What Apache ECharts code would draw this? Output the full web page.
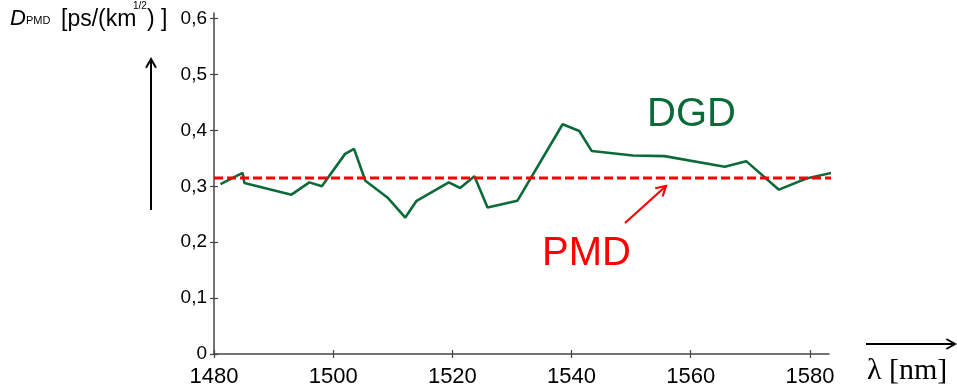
<!DOCTYPE html>
<html>
<head>
<meta charset="utf-8">
<script src="https://cdn.jsdelivr.net/npm/echarts@6/dist/echarts.min.js"></script>
<style>
  html, body { margin: 0; padding: 0; background: #fff; }
  #chart { width: 957px; height: 392px; }
</style>
</head>
<body>
<div id="chart"></div>
<script>
// Wavelength samples (nm) and measured differential group delay
const wavelength = [1481.1, 1484.8, 1485.1, 1493.0, 1496.0, 1498.1, 1502.0, 1503.5, 1505.4,
  1509.1, 1512.1, 1514.0, 1519.4, 1521.3, 1523.7, 1525.9, 1530.9, 1538.5, 1541.3, 1543.4,
  1550.3, 1555.6, 1565.7, 1569.3, 1574.8, 1579.4, 1585.3];
const dgd = [0.304, 0.324, 0.306, 0.285, 0.307, 0.300, 0.358, 0.367, 0.310,
  0.280, 0.244, 0.274, 0.307, 0.297, 0.318, 0.262, 0.274, 0.411, 0.399, 0.363,
  0.355, 0.354, 0.335, 0.345, 0.294, 0.314, 0.328];

// Mean PMD level across the band
const pmdSpan = [1480, 1586.5];
const pmdValue = 0.315;

// Axis ticks and labels
const xTickValues = [1480, 1500, 1520, 1540, 1560, 1580];
const yTickValues = [0, 0.1, 0.2, 0.3, 0.4, 0.5, 0.6];
const yTickLabels = ['0', '0,1', '0,2', '0,3', '0,4', '0,5', '0,6'];

const X_MIN = 1480, X_MAX = 1583.2, Y_MIN = 0, Y_MAX = 0.61;
const GREEN = '#0b6b38';
const RED = '#ff0000';
const AXIS = '#444';
const SANS = '"Liberation Sans", Arial, sans-serif';

const chart = echarts.init(document.getElementById('chart'), null, { renderer: 'canvas' });

function arrow(x1, y1, x2, y2, color, width, head) {
  const dx = x2 - x1, dy = y2 - y1;
  const len = Math.hypot(dx, dy);
  const ux = dx / len, uy = dy / len;
  const a = Math.PI / 6;
  const p1 = [x2 - head * (ux * Math.cos(a) - uy * Math.sin(a)), y2 - head * (uy * Math.cos(a) + ux * Math.sin(a))];
  const p2 = [x2 - head * (ux * Math.cos(a) + uy * Math.sin(a)), y2 - head * (uy * Math.cos(a) - ux * Math.sin(a))];
  return [
    { type: 'line', shape: { x1, y1, x2, y2 }, style: { stroke: color, lineWidth: width }, z: 100 },
    { type: 'polyline', shape: { points: [p1, [x2, y2], p2] }, style: { stroke: color, lineWidth: width, fill: null }, z: 100 }
  ];
}

// Text placed by the top of its line box
function txt(text, x, y, font, fill) {
  return {
    type: 'text', x, y, z: 100,
    style: { text, font, fill, verticalAlign: 'top', align: 'left' }
  };
}

const graphics = [
  // y-axis quantity label
  txt('D', 10, 8, 'italic 22px ' + SANS, '#000'),
  txt('PMD', 26, 15, '11px ' + SANS, '#000'),
  txt('[ps/(km', 61, 8, '23px ' + SANS, '#000'),
  txt('1/2', 133, 1, '10px ' + SANS, '#000'),
  txt(') ]', 147, 8, '23px ' + SANS, '#000'),
  // curve names
  txt('DGD', 647, 95, '40px ' + SANS, GREEN),
  txt('PMD', 542, 234, '40px ' + SANS, RED),
  // x quantity label
  txt('\u03bb [nm]', 867, 356, '30px "Liberation Serif", "Times New Roman", serif', '#000')
].concat(
  arrow(151, 210, 151, 59, '#000', 2, 10),
  arrow(866, 344, 955, 344, '#000', 2, 10),
  arrow(625, 223, 666, 186, RED, 2.2, 11)
);

const tickLen = 4;
const option = {
  animation: false,
  backgroundColor: '#fff',
  grid: { left: 214, right: 128, top: 13, bottom: 38, containLabel: false },
  xAxis: [{
    type: 'value', min: X_MIN, max: X_MAX,
    axisLine: { show: true, lineStyle: { color: AXIS, width: 1.5 } },
    axisTick: { show: true, length: tickLen, customValues: xTickValues, lineStyle: { color: AXIS, width: 1.2 } },
    axisLabel: { customValues: xTickValues, margin: 12, color: '#000', fontSize: 22, fontFamily: SANS,
      formatter: v => String(v) },
    splitLine: { show: false }
  }, {
    type: 'value', min: X_MIN, max: X_MAX, position: 'bottom',
    axisLine: { show: false },
    axisTick: { show: true, inside: true, length: tickLen, customValues: xTickValues, lineStyle: { color: AXIS, width: 1.2 } },
    axisLabel: { show: false },
    splitLine: { show: false }
  }],
  yAxis: [{
    type: 'value', min: Y_MIN, max: Y_MAX,
    axisLine: { show: true, lineStyle: { color: AXIS, width: 1.5 } },
    axisTick: { show: true, length: tickLen, customValues: yTickValues, lineStyle: { color: AXIS, width: 1.2 } },
    axisLabel: { customValues: yTickValues, margin: 7, color: '#000', fontSize: 19, fontFamily: SANS,
      formatter: v => yTickLabels[Math.round(v * 10)] },
    splitLine: { show: false }
  }, {
    type: 'value', min: Y_MIN, max: Y_MAX, position: 'left',
    axisLine: { show: false },
    axisTick: { show: true, inside: true, length: tickLen, customValues: yTickValues, lineStyle: { color: AXIS, width: 1.2 } },
    axisLabel: { show: false },
    splitLine: { show: false }
  }],
  series: [{
    name: 'DGD', type: 'line', xAxisIndex: 0, yAxisIndex: 0,
    data: wavelength.map((w, i) => [w, dgd[i]]),
    showSymbol: false, symbol: 'none', clip: false, z: 3,
    lineStyle: { color: GREEN, width: 2.6 }
  }, {
    name: 'PMD', type: 'line', xAxisIndex: 0, yAxisIndex: 0,
    data: pmdSpan.map(w => [w, pmdValue]),
    showSymbol: false, symbol: 'none', clip: false, z: 4,
    lineStyle: { color: RED, width: 3, type: [9, 4] }
  }],
  graphic: graphics
};

chart.setOption(option);
</script>
</body>
</html>
